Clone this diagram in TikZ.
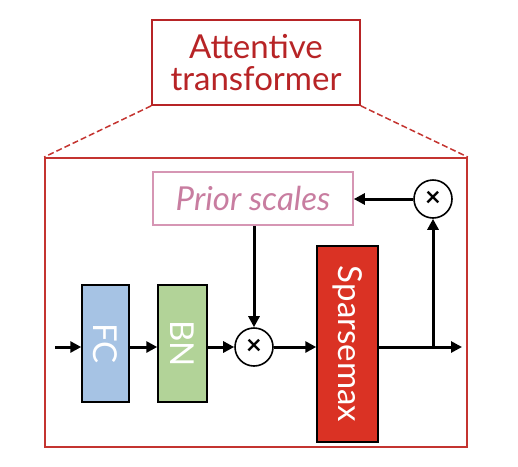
\documentclass[tikz,border=0pt]{standalone}
\usepackage{fontspec}
\setmainfont{Lato}
\usetikzlibrary{arrows.meta,positioning}

\definecolor{atred}{RGB}{183,36,38}
\definecolor{boxred}{RGB}{196,52,48}
\definecolor{priorpink}{RGB}{214,150,180}
\definecolor{priortext}{RGB}{200,125,160}
\definecolor{fcblue}{RGB}{166,195,228}
\definecolor{bngreen}{RGB}{178,211,152}
\definecolor{sparsered}{RGB}{218,50,36}

\tikzset{
  bigtext/.style={font=\fontsize{33}{35}\selectfont},
  layer/.style={draw=black, line width=1.5pt, text=white, bigtext, inner sep=0pt},
  mult/.style={circle, draw=black, line width=1.6pt, minimum size=38pt,
    inner sep=0pt, font=\fontsize{27}{27}\selectfont\bfseries},
  flow/.style={line width=3pt, -{Triangle[length=11pt,width=11pt]}},
}

\begin{document}
\begin{tikzpicture}[x=1pt,y=-1pt]
  \useasboundingbox (0,0) rectangle (518,466);

  % Title box and the zoomed-in frame
  \node (title) [draw=atred, line width=1.8pt, minimum width=208pt, minimum height=85pt,
    text=atred, align=center, bigtext] at (256,62.5) {Attentive\\[-3pt]transformer};
  \node (frame) [draw=boxred, line width=1.8pt, minimum width=422pt,
    minimum height=289pt] at (256,302.5) {};
  \draw[boxred, line width=1.5pt, dash pattern=on 6pt off 3pt] (title.south west) -- (frame.north west);
  \draw[boxred, line width=1.5pt, dash pattern=on 6pt off 3pt] (title.south east) -- (frame.north east);

  % Prior scales and the upper product
  \node (prior) [draw=priorpink, line width=1.6pt, minimum width=200pt, minimum height=53pt,
    text=priortext, font=\fontsize{33}{35}\selectfont\itshape] at (253,198.5) {Prior scales};
  \node (multop) [mult] at (433,199) {×};

  % Layers
  \node (fc) [layer, fill=fcblue, minimum width=47pt, minimum height=117pt] at (105.5,343.5) {\rotatebox{-90}{FC}};
  \node (bn) [layer, fill=bngreen, minimum width=49pt, minimum height=117pt] at (182.5,343.5) {\rotatebox{-90}{BN}};
  \node (mullow) [mult] at (254,347) {×};
  \node (sparse) [layer, fill=sparsered, minimum width=61pt, minimum height=196pt] at (347.5,344) {\rotatebox{-90}{Sparsemax}};

  % Free ends
  \coordinate (in) at (55,347);
  \coordinate (out) at (462,347);
  \coordinate (branch) at (433,347);

  % Connectors
  \draw[flow] (in) -- (in -| fc.west);
  \draw[flow] (fc.east |- in) -- (bn.west |- in);
  \draw[flow] (bn.east |- in) -- (mullow.west);
  \draw[flow] (mullow.east) -- (sparse.west |- mullow.east);
  \draw[flow] (sparse.east |- out) -- (out);
  \draw[flow] (branch) -- (multop.south);
  \draw[flow] (multop.west) -- (multop.west -| prior.east);
  \draw[flow] (prior.south -| mullow.north) -- (mullow.north);
\end{tikzpicture}
\end{document}
